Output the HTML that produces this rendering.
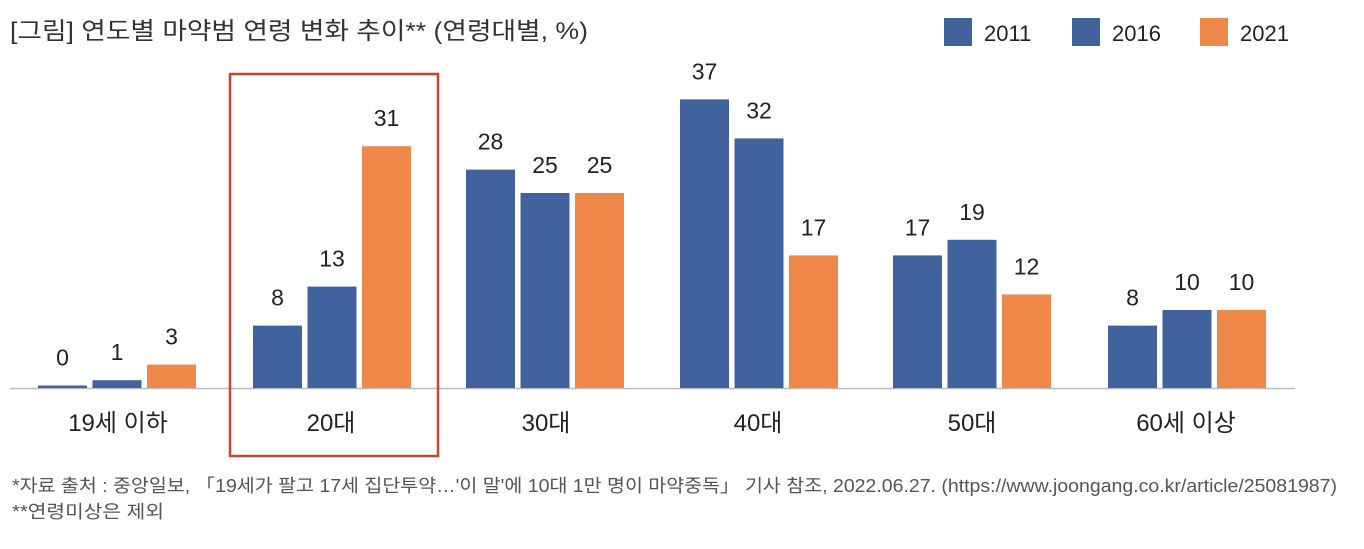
<!DOCTYPE html>
<html><head><meta charset="utf-8"><style>
body{margin:0;background:#fff;width:1364px;height:544px;overflow:hidden}
svg text{font-family:"Liberation Sans","Noto Sans CJK KR",sans-serif}
</style></head><body>
<svg width="1364" height="544" xmlns="http://www.w3.org/2000/svg">
<text x="10" y="39" font-size="24" fill="#333" textLength="578" lengthAdjust="spacingAndGlyphs">[그림] 연도별 마약범 연령 변화 추이** (연령대별, %)</text>
<rect x="944" y="18" width="28" height="28" fill="#41629c"/><text x="984" y="41" font-size="22" fill="#222">2011</text>
<rect x="1072" y="18" width="28" height="28" fill="#41629c"/><text x="1112" y="41" font-size="22" fill="#222">2016</text>
<rect x="1200" y="18" width="28" height="28" fill="#f0884a"/><text x="1240" y="41" font-size="22" fill="#222">2021</text>
<line x1="10" y1="388.5" x2="1295" y2="388.5" stroke="#bbb" stroke-width="1.5"/>
<g font-size="23" fill="#222" text-anchor="middle" id="bars"></g>
<rect x="230" y="74" width="208" height="382" fill="none" stroke="#c8472a" stroke-width="2.5"/>
<g font-size="24" fill="#222" text-anchor="middle">
<text x="118" y="431">19세 이하</text><text x="331" y="431">20대</text><text x="546" y="431">30대</text>
<text x="758" y="431">40대</text><text x="972" y="431">50대</text><text x="1186" y="431">60세 이상</text>
</g>
<text x="12" y="492" font-size="18" fill="#555" textLength="1325" lengthAdjust="spacingAndGlyphs">*자료 출처 : 중앙일보, 「19세가 팔고 17세 집단투약…'이 말'에 10대 1만 명이 마약중독」 기사 참조, 2022.06.27. (https://www.joongang.co.kr/article/25081987)</text>
<text x="12" y="518" font-size="18" fill="#555" textLength="152" lengthAdjust="spacingAndGlyphs">**연령미상은 제외</text>
</svg>
<script>
var g=document.getElementById('bars');
var starts=[38,253,466,680,893,1108];
var data=[[0,1,3],[8,13,31],[28,25,25],[37,32,17],[17,19,12],[8,10,10]];
var cols=['#41629c','#41629c','#f0884a'];
var h='';
data.forEach(function(d,i){d.forEach(function(v,j){
var x=starts[i]+j*54.5,hh=Math.max(v*7.8,2.5),y=388-hh;
h+='<rect x="'+x+'" y="'+y+'" width="49" height="'+hh+'" fill="'+cols[j]+'"/>';
h+='<text x="'+(x+24.5)+'" y="'+(y-20)+'">'+v+'</text>';});});
g.innerHTML=h;
</script>
</body></html>
